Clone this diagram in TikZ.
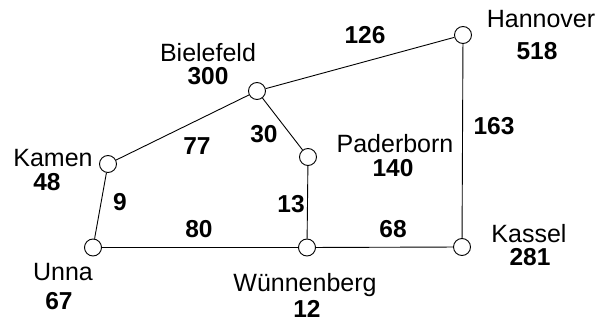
\documentclass[tikz,border=0pt]{standalone}
\usepackage{fontspec}
\setmainfont{Liberation Sans}
\begin{document}
\begin{tikzpicture}[x=1pt,y=-1pt,
  city/.style={circle,draw,fill=white,minimum size=17pt,inner sep=0pt,line width=0.9pt},
  lbl/.style={font=\fontsize{25}{27}\selectfont,inner sep=0pt,anchor=base},
  num/.style={font=\fontsize{24.5}{27}\selectfont\bfseries,inner sep=0pt,anchor=base},
  road/.style={line width=0.9pt}]
\useasboundingbox (0,0) rectangle (605,323);
% cities
\node[city] (bi) at (257,91) {};
\node[city] (ka) at (108,164) {};
\node[city] (un) at (93,247.5) {};
\node[city] (pa) at (308,157) {};
\node[city] (wu) at (307,247.5) {};
\node[city] (ha) at (463,35) {};
\node[city] (ks) at (462,247) {};
% roads
\draw[road] (bi) -- (ha);
\draw[road] (bi) -- (ka);
\draw[road] (bi) -- (pa);
\draw[road] (ka) -- (un);
\draw[road] (un) -- (wu);
\draw[road] (pa) -- (wu);
\draw[road] (wu) -- (ks);
\draw[road] (ha) -- (ks);
% city labels
\node[lbl] (tbi) at (208,62) {Bielefeld};
\node[num] (nbi) at (208,85) {300};
\node[lbl] (tka) at (53,167) {Kamen};
\node[num] (nka) at (47,190.5) {48};
\node[lbl] (tun) at (63,280) {Unna};
\node[num] (nun) at (59,309) {67};
\node[lbl] (twu) at (305,291) {Wünnenberg};
\node[num] (nwu) at (307,317) {12};
\node[lbl] (tpa) at (395,153) {Paderborn};
\node[num] (npa) at (393,177) {140};
\node[lbl] (tha) at (541,28) {Hannover};
\node[num] (nha) at (537,60) {518};
\node[lbl] (tks) at (529,242) {Kassel};
\node[num] (nks) at (530,265.5) {281};
% distances
\node[num] (d1) at (365,44) {126};
\node[num] (d2) at (494,135) {163};
\node[num] (d3) at (393,237) {68};
\node[num] (d4) at (197,155) {77};
\node[num] (d5) at (264,143) {30};
\node[num] (d6) at (120,211) {9};
\node[num] (d7) at (199,237) {80};
\node[num] (d8) at (291,213) {13};
\end{tikzpicture}
\end{document}
